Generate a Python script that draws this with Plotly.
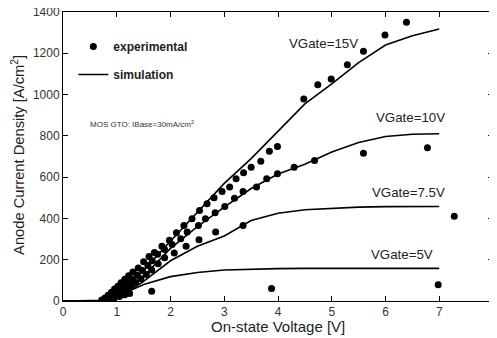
import plotly.graph_objects as go

# ---- simulation curves ----
sim_v = [0, 0.7, 0.8, 0.9, 1.0, 1.2, 1.5, 2.0, 2.5, 3.0, 3.5, 4.0, 4.5, 5.0, 5.5, 6.0, 6.5, 7.0]
sim_15 = [0, 0, 5, 15, 30, 70, 150, 290, 430, 570, 690, 820, 955, 1052, 1155, 1240, 1285, 1318]
sim_10 = [0, 0, 5, 13, 25, 60, 120, 255, 360, 455, 545, 615, 662, 722, 768, 797, 808, 810]
sim_75 = [0, 0, 4, 10, 20, 45, 95, 195, 265, 315, 390, 425, 442, 450, 455, 457, 458, 458]
sim_5 = [0, 0, 3, 8, 15, 45, 80, 118, 138, 150, 155, 157, 158, 158, 158, 158, 158, 158]

# ---- experimental points ----
exp15_v = [0.72, 0.78, 0.84, 0.90, 0.96, 1.02, 1.08, 1.15, 1.22, 1.30, 1.40, 1.50, 1.60, 1.70, 1.84,
           1.98, 2.11, 2.25, 2.40, 2.54, 2.68, 2.81, 2.96, 3.10, 3.22, 3.36, 3.50, 3.68, 3.84, 3.99,
           4.48, 4.74, 4.99, 5.29, 5.59, 5.99, 6.39]
exp15_j = [5, 15, 28, 42, 58, 72, 88, 105, 122, 140, 160, 190, 215, 235, 265,
           294, 331, 366, 398, 439, 471, 500, 530, 552, 592, 621, 648, 677, 726, 748,
           979, 1048, 1076, 1144, 1210, 1289, 1350]
exp10_v = [0.74, 0.80, 0.86, 0.92, 0.98, 1.05, 1.12, 1.20, 1.28, 1.38, 1.48, 1.58, 1.66, 1.76, 1.89,
           2.03, 2.19, 2.31, 2.52, 2.65, 2.83, 3.01, 3.19, 3.35, 3.60, 3.79, 3.99, 4.30, 4.68, 5.59, 6.78]
exp10_j = [3, 10, 20, 32, 45, 58, 72, 88, 105, 125, 148, 172, 195, 226, 249,
           274, 302, 334, 366, 398, 428, 458, 498, 531, 552, 592, 616, 648, 681, 716, 742]
exp75_v = [0.76, 0.82, 0.88, 0.95, 1.02, 1.10, 1.18, 1.26, 1.35, 1.45, 1.55, 1.65, 1.77, 1.89,
           2.07, 2.29, 2.53, 2.84, 3.35, 7.28]
exp75_j = [2, 8, 16, 26, 36, 48, 60, 74, 90, 108, 128, 150, 180, 210,
           232, 265, 297, 334, 366, 410]
exp5_v = [0.75, 0.85, 0.95, 1.05, 1.15, 1.24, 1.65, 3.88, 6.98]
exp5_j = [2, 8, 15, 22, 30, 36, 47, 60, 79]

curve_labels = ["VGate=15V", "VGate=10V", "VGate=7.5V", "VGate=5V"]
label_pos_v = [4.17, 5.78, 5.72, 5.70]
label_pos_j = [1247, 890, 527, 224]

x_ticks = [0, 1, 2, 3, 4, 5, 6, 7, 8]
y_ticks = [0, 200, 400, 600, 800, 1000, 1200, 1400]

FONT = "Arial, Liberation Sans, sans-serif"

fig = go.Figure()

exp_v = exp15_v + exp10_v + exp75_v + exp5_v
exp_j = exp15_j + exp10_j + exp75_j + exp5_j
fig.add_trace(go.Scatter(x=exp_v, y=exp_j, mode="markers", name="experimental",
                         legendgroup="a",
                         marker=dict(color="black", size=7, symbol="circle")))

for i, ys in enumerate([sim_15, sim_10, sim_75, sim_5]):
    fig.add_trace(go.Scatter(x=sim_v, y=ys, mode="lines", name="simulation",
                             legendgroup="b", showlegend=(i == 0),
                             line=dict(color="black", width=1.6)))

for t, xv, yv in zip(curve_labels, label_pos_v, label_pos_j):
    fig.add_annotation(x=xv, y=yv, text=t, showarrow=False, xanchor="left", yanchor="middle",
                       font=dict(family=FONT, size=13.3, color="#222"))

fig.add_annotation(xref="paper", yref="paper", x=0.058, y=0.612,
                   text="MOS GTO: IBase=30mA/cm<sup>2</sup>", showarrow=False,
                   xanchor="left", yanchor="middle",
                   font=dict(family=FONT, size=8, color="#333"))

# axis titles
fig.add_annotation(xref="paper", yref="paper", x=0.5, y=-0.088,
                   text="On-state Voltage [V]", showarrow=False,
                   xanchor="center", yanchor="middle",
                   font=dict(family=FONT, size=15, color="#222"))
fig.add_annotation(xref="paper", yref="paper", x=-0.105, y=0.505,
                   text="Anode Current Density [A/cm<sup>2</sup>]", showarrow=False, textangle=-90,
                   xanchor="center", yanchor="middle",
                   font=dict(family=FONT, size=14.7, color="#222"))

axis_common = dict(showline=True, linecolor="black", linewidth=1, mirror="ticks",
                   ticks="inside", ticklen=5, tickcolor="black", showgrid=False, zeroline=False,
                   automargin=False, ticklabeloverflow="allow",
                   tickfont=dict(family=FONT, size=12, color="#333"))

fig.update_layout(
    width=497, height=338,
    margin=dict(l=55, r=12, t=4, b=45),
    paper_bgcolor="white", plot_bgcolor="white",
    showlegend=True,
    legend=dict(x=0.024, y=0.931, xanchor="left", yanchor="top", bgcolor="rgba(0,0,0,0)",
                tracegroupgap=9, itemwidth=30,
                font=dict(family=FONT, size=12, color="#222", weight="bold")),
    xaxis=dict(range=[0, 8], tickvals=x_ticks, ticktext=[str(v) for v in x_ticks], **axis_common),
    yaxis=dict(range=[0, 1400], tickvals=y_ticks, ticktext=[str(v) for v in y_ticks], **axis_common),
)

fig.write_html("out.html")
